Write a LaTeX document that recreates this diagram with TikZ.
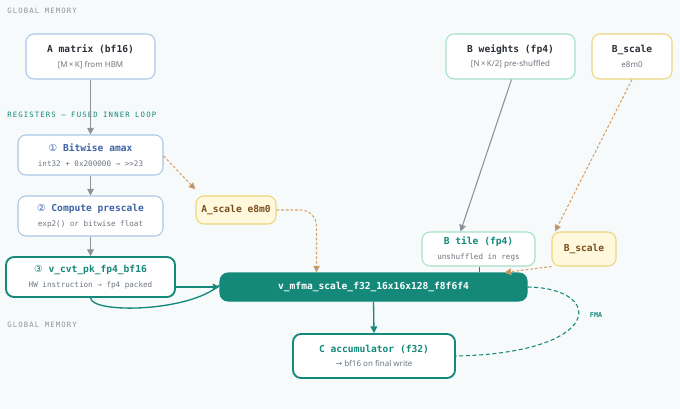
\documentclass[tikz,border=0pt]{standalone}
\usepackage{fontspec}
\setmainfont{Noto Sans}
\setmonofont{DejaVu Sans Mono}
\newfontfamily\symfont{DejaVu Sans}
\usetikzlibrary{arrows.meta}
\definecolor{bgcol}{HTML}{F6FAFA}
\definecolor{bluebd}{HTML}{A9C7E7}
\definecolor{bluetx}{HTML}{3E63A6}
\definecolor{tealc}{HTML}{14897A}
\definecolor{mintbd}{HTML}{A6E0C6}
\definecolor{yelbd}{HTML}{EDD67C}
\definecolor{yelfill}{HTML}{FFF8DD}
\definecolor{browntx}{HTML}{7A4E1E}
\definecolor{darktx}{HTML}{2B3038}
\definecolor{subtx}{HTML}{6E7680}
\definecolor{arrgray}{HTML}{8C919A}
\definecolor{dashor}{HTML}{D8A264}
\definecolor{lanegray}{HTML}{8E949C}
\def\px{0.75pt}
\newcommand{\ttl}[1]{{\fontsize{7.2}{11}\selectfont\ttfamily\bfseries #1}}
\newcommand{\subm}[1]{{\fontsize{5.7}{11}\selectfont\ttfamily #1}}
\newcommand{\subs}[1]{{\fontsize{6}{11}\selectfont #1}}
\newcommand{\circnum}[1]{{\symfont\mdseries #1}}
\tikzset{
  box/.style={rounded corners=6pt, line width=0.8pt, inner sep=0pt, align=center, fill=white,
    font=\fontsize{6}{11}\selectfont},
  bluebox/.style={box, draw=bluebd, text=bluetx},
  mintbox/.style={box, draw=mintbd, text=darktx},
  yelbox/.style={box, draw=yelbd, fill=yelfill, text=browntx},
  tealbox/.style={box, draw=tealc, line width=1.4pt, text=tealc},
  lane/.style={anchor=west, inner sep=0pt,
    font=\fontsize{5.5}{6}\selectfont\ttfamily\addfontfeature{LetterSpace=15}},
  tip/.style={-{Triangle[length=5pt,width=5pt]}},
  grayarr/.style={tip, draw=arrgray, line width=0.8pt},
  dasharr/.style={-{Triangle[length=5pt,width=5pt,fill=arrgray]}, draw=dashor, line width=0.8pt,
    dash pattern=on 2pt off 1.5pt},
  tealarr/.style={tip, draw=tealc, line width=1pt},
}
\begin{document}
\begin{tikzpicture}[x=0.75pt,y=-0.75pt]
	\fill[bgcol] (0,0) rectangle (680,409);
	\useasboundingbox (0,0) rectangle (680,409);

	% lane labels
	\node[lane, text=lanegray] (glob1) at (7,11) {GLOBAL MEMORY};
	\node[lane, text=tealc] (regs) at (7,115) {REGISTERS — FUSED INNER LOOP};
	\node[lane, text=lanegray] (glob2) at (7,325) {GLOBAL MEMORY};

	% A side
	\node[bluebox, text=darktx, minimum width=129*\px, minimum height=45*\px] (amat) at (90.5,56.5)
		{\ttl{A matrix (bf16)}\\\subs{\color{subtx}[M\,×\,K] from HBM}};
	\node[bluebox, minimum width=145*\px, minimum height=40*\px] (amax) at (90.5,155)
		{\ttl{\circnum{①} Bitwise amax}\\\subm{\color{subtx}int32 + 0x200000 → >>23}};
	\node[bluebox, minimum width=145*\px, minimum height=40*\px] (pre) at (90.5,216)
		{\ttl{\circnum{②} Compute prescale}\\\subm{\color{subtx}exp2() or bitwise float}};
	\node[tealbox, minimum width=169*\px, minimum height=40*\px] (cvt) at (90.5,277)
		{\ttl{\circnum{③} v\_cvt\_pk\_fp4\_bf16}\\\subm{\color{subtx}HW instruction → fp4 packed}};
	\node[yelbox, minimum width=80*\px, minimum height=28*\px] (ascale) at (236,210)
		{\ttl{A\_scale e8m0}};

	% B side
	\node[mintbox, minimum width=129*\px, minimum height=45*\px] (bw) at (510.5,56.5)
		{\ttl{B weights (fp4)}\\\subs{\color{subtx}[N\,×\,K/2] pre-shuffled}};
	\node[yelbox, fill=white, text=darktx, minimum width=80*\px, minimum height=45*\px] (bsg) at (632,56.5)
		{\ttl{B\_scale}\\\subs{\color{subtx}e8m0}};
	\node[mintbox, text=tealc, minimum width=113*\px, minimum height=34*\px] (btile) at (478.5,249)
		{\ttl{B tile (fp4)}\\\subm{\color{subtx}unshuffled in regs}};
	\node[yelbox, minimum width=64*\px, minimum height=34*\px] (bsr) at (584,249)
		{\ttl{B\_scale}};

	% MFMA and accumulator
	\node[box, draw=tealc, fill=tealc, text=white, minimum width=307*\px, minimum height=28*\px] (mfma) at (373.5,287)
		{\ttl{v\_mfma\_scale\_f32\_16x16x128\_f8f6f4}};
	\node[tealbox, minimum width=162*\px, minimum height=44*\px] (cacc) at (374,356)
		{\ttl{C accumulator (f32)}\\\subs{\color{subtx}{\symfont →} bf16 on final write}};

	% connectors
	\draw[grayarr] (amat.south) -- (amax.north);
	\draw[grayarr] (amax.south) -- (pre.north);
	\draw[grayarr] (pre.south) -- (cvt.north);
	\draw[dasharr] ([yshift=-1*\px]amax.east) -- ([yshift=6*\px]ascale.north west);
	\draw[dasharr, rounded corners=12pt] (ascale.east) -| ([xshift=-57*\px]mfma.north);
	\draw[tealarr] (cvt.east |- mfma.west) -- (mfma.west);
	\draw[tealc, line width=1pt] (cvt.south) .. controls (92,314) and (190,312) .. ([yshift=2*\px]mfma.west);
	\draw[grayarr] ([xshift=1*\px]bw.south) -- ([xshift=-18*\px]btile.north);
	\draw[dasharr] (bsg.south) -- ([xshift=-29*\px]bsr.north);
	\draw[tealc, line width=1pt] ([xshift=1*\px]btile.south) -- ([xshift=1*\px]btile.south |- mfma.north);
	\draw[dasharr] (bsr.south west) -- ([xshift=131*\px]mfma.north);
	\draw[tealarr] (mfma.south) -- (cacc.north);
	\draw[tealc, line width=0.8pt, dash pattern=on 3pt off 2pt] (mfma.east) .. controls (605,288) and (605,353) .. (cacc.east);
	\node[font=\fontsize{5}{6}\selectfont\ttfamily\bfseries, text=tealc] (fma) at (596,315) {FMA};
\end{tikzpicture}
\end{document}
